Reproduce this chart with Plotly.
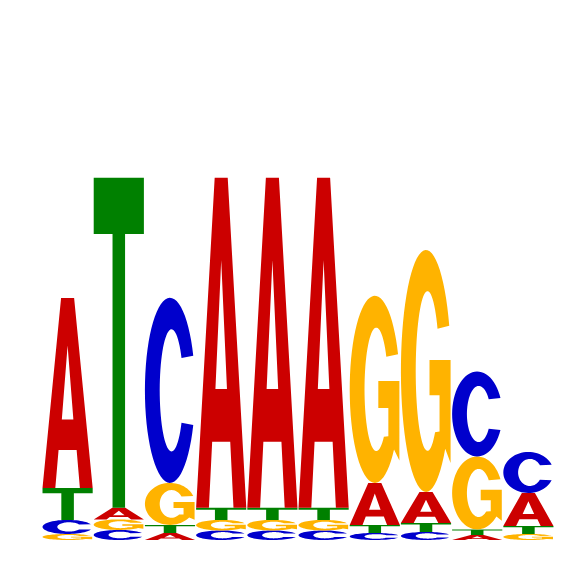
import math
import plotly.graph_objects as go

# ---- data: letter heights (bits) per position ----
positions = [1, 2, 3, 4, 5, 6, 7, 8, 9, 10]
A_bits = [0.755, 0.046, 0.028, 1.312, 1.312, 1.312, 0.167, 0.123, 0.020, 0.131]
C_bits = [0.056, 0.040, 0.736, 0.038, 0.038, 0.038, 0.028, 0.032, 0.338, 0.163]
G_bits = [0.024, 0.042, 0.167, 0.042, 0.042, 0.042, 0.744, 0.962, 0.290, 0.024]
T_bits = [0.127, 1.312, 0.032, 0.048, 0.048, 0.048, 0.032, 0.036, 0.022, 0.032]

colors = {"A": "#CC0000", "C": "#0000CC", "G": "#FFB300", "T": "#008000"}


def ell(cx, cy, rx, ry, a0, a1, n=60):
    pts = []
    for k in range(n + 1):
        a = math.radians(a0 + (a1 - a0) * k / n)
        pts.append((cx + rx * math.cos(a), cy + ry * math.sin(a)))
    return pts


# glyph outlines in unit box (u right, v up)
GLYPHS = {
    "A": [
        [(0, 0), (0.37, 1), (0.63, 1), (1, 0), (0.745, 0), (0.68, 0.2), (0.32, 0.2), (0.255, 0)],
        [(0.385, 0.36), (0.615, 0.36), (0.5, 0.75)],
    ],
    "T": [
        [(0, 1), (1, 1), (1, 0.83), (0.625, 0.83), (0.625, 0), (0.375, 0), (0.375, 0.83), (0, 0.83)],
    ],
    "C": [
        ell(0.5, 0.5, 0.5, 0.5, 22, 338) + ell(0.53, 0.5, 0.235, 0.33, -32, -328),
    ],
    "G": [
        ell(0.5, 0.5, 0.5, 0.5, 22, 320)
        + [(0.99, 0.12), (0.99, 0.545), (0.57, 0.545), (0.57, 0.40), (0.77, 0.40), (0.77, 0.25)]
        + ell(0.53, 0.5, 0.235, 0.33, -50, -328),
    ],
}


def glyph_path(letter, x0, y0, w, h):
    parts = []
    for contour in GLYPHS[letter]:
        s = ""
        for j, (u, v) in enumerate(contour):
            s += ("M" if j == 0 else "L") + f"{x0 + u * w:.5f},{y0 + v * h:.5f}"
        parts.append(s + "Z")
    return "".join(parts)


fig = go.Figure()
fig.add_trace(go.Scatter(x=[0.5, 10.5], y=[0, 2], mode="markers",
                         marker=dict(opacity=0), hoverinfo="skip", showlegend=False))

shapes = []
gw = 0.98
for i, pos in enumerate(positions):
    col = [("A", A_bits[i]), ("C", C_bits[i]), ("G", G_bits[i]), ("T", T_bits[i])]
    col.sort(key=lambda t: t[1])
    base = 0.0
    for letter, h in col:
        shapes.append(dict(type="path", xref="x", yref="y",
                           path=glyph_path(letter, pos - gw / 2, base, gw, h),
                           fillcolor=colors[letter], line=dict(width=0),
                           layer="above"))
        base += h

fig.update_layout(
    shapes=shapes,
    width=566, height=566,
    margin=dict(l=34, r=20, t=29, b=34),
    plot_bgcolor="white", paper_bgcolor="white",
    xaxis=dict(range=[0.5, 10.5], visible=False, showgrid=False, zeroline=False),
    yaxis=dict(range=[0, 2], visible=False, showgrid=False, zeroline=False),
    showlegend=False,
)
fig.write_html("out.html")
